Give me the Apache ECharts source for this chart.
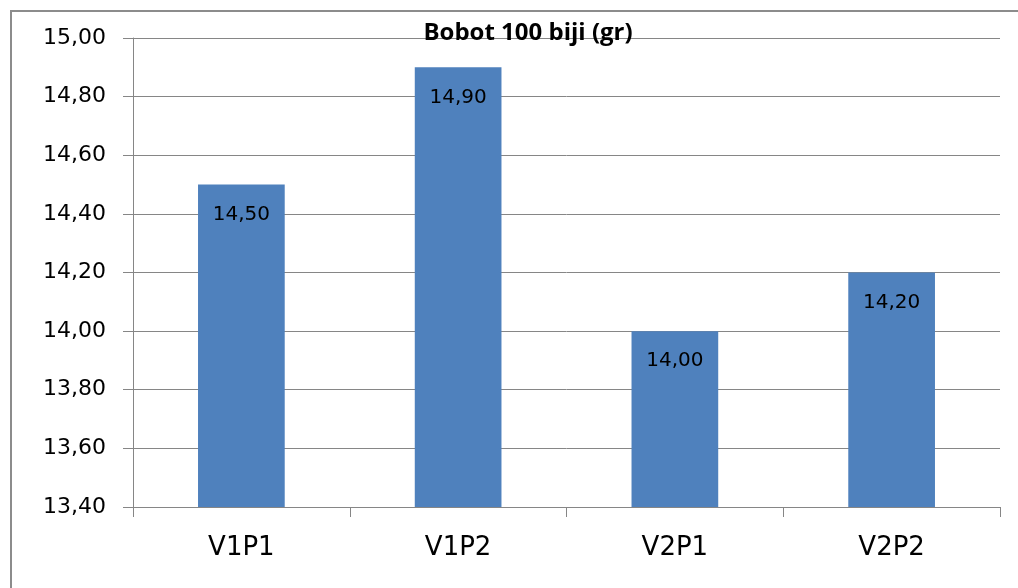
<!DOCTYPE html>
<html>
<head>
<meta charset="utf-8">
<script src="https://cdn.jsdelivr.net/npm/echarts@6/dist/echarts.min.js"></script>
<style>
html, body { margin: 0; padding: 0; background: #fff; }
#main { width: 1018px; height: 588px; }
</style>
</head>
<body>
<div id="main"></div>
<script>
var categories = ['V1P1', 'V1P2', 'V2P1', 'V2P2'];
var bobot = [14.50, 14.90, 14.00, 14.20];
var yMin = 13.4, yMax = 15.0, yStep = 0.2;

function koma(v) {
    return Number(v).toFixed(2).replace('.', ',');
}

var dom = document.getElementById('main');
var myChart = echarts.init(dom);
var option = {
    animation: false,
    title: {
        text: 'Bobot 100 biji (gr)',
        left: 523,
        top: 16,
        textAlign: 'center',
        textStyle: { fontFamily: 'Open Sans', fontWeight: 'bold', fontSize: 24, color: '#000' }
    },
    graphic: [
        {
            type: 'polyline',
            shape: { points: [[11, 600], [11, 11], [1030, 11]] },
            style: { stroke: '#8c8c8c', lineWidth: 2, fill: null },
            z: 0
        }
    ],
    grid: { left: 133, right: 18, top: 38, bottom: 81 },
    xAxis: {
        type: 'category',
        data: categories,
        axisLine: { lineStyle: { color: '#868686', width: 1 } },
        axisTick: { show: true, length: 10, alignWithLabel: false, lineStyle: { color: '#868686' } },
        axisLabel: { margin: 28, fontFamily: 'DejaVu Sans', fontSize: 26, color: '#000' }
    },
    yAxis: {
        type: 'value',
        min: yMin,
        max: yMax,
        interval: yStep,
        axisLine: { show: true, lineStyle: { color: '#868686', width: 1 } },
        axisTick: { show: true, length: 10, lineStyle: { color: '#868686' } },
        splitLine: { lineStyle: { color: '#868686', width: 1 } },
        axisLabel: { margin: 27, fontFamily: 'DejaVu Sans', fontSize: 22, color: '#000', formatter: koma }
    },
    series: [
        {
            type: 'bar',
            data: bobot,
            barWidth: '40%',
            itemStyle: { color: '#4f81bd' },
            label: {
                show: true,
                position: 'insideTop',
                distance: 20,
                fontFamily: 'DejaVu Sans',
                fontSize: 20,
                color: '#000',
                formatter: function (p) { return koma(p.value); }
            }
        }
    ]
};
if (option && typeof option === 'object') {
    myChart.setOption(option);
}
</script>
</body>
</html>
